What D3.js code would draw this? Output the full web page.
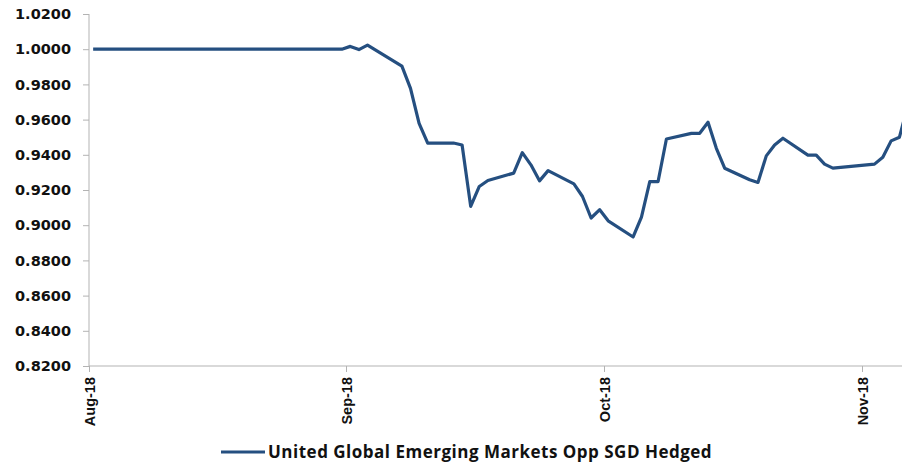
<!DOCTYPE html>
<html>
<head>
<meta charset="utf-8">
<script src="https://cdn.jsdelivr.net/npm/d3@7"></script>
<style>
  body { margin: 0; background: #fff; }
  svg { display: block; }
</style>
</head>
<body>
<div id="chart"></div>
<script>
const seriesName = 'United Global Emerging Markets Opp SGD Hedged';

// daily NAV readings (date, value)
const dates = [
  '2018-08-01', '2018-08-31',
  '2018-09-01', '2018-09-02', '2018-09-03', '2018-09-07', '2018-09-08', '2018-09-09',
  '2018-09-10', '2018-09-13', '2018-09-14', '2018-09-15', '2018-09-16', '2018-09-17',
  '2018-09-20', '2018-09-21', '2018-09-22', '2018-09-23', '2018-09-24', '2018-09-27',
  '2018-09-28', '2018-09-29', '2018-09-30',
  '2018-10-01', '2018-10-04', '2018-10-05', '2018-10-06', '2018-10-07', '2018-10-08',
  '2018-10-11', '2018-10-12', '2018-10-13', '2018-10-14', '2018-10-15', '2018-10-18',
  '2018-10-19', '2018-10-20', '2018-10-21', '2018-10-22', '2018-10-25', '2018-10-26',
  '2018-10-27', '2018-10-28',
  '2018-11-02', '2018-11-03', '2018-11-04', '2018-11-05', '2018-11-06'
];
const values = [
  1.0000, 1.0000,
  1.0016, 0.9998, 1.0023, 0.9904, 0.9777, 0.9579,
  0.9466, 0.9467, 0.9456, 0.9107, 0.9220, 0.9254,
  0.9296, 0.9412, 0.9343, 0.9252, 0.9310, 0.9235,
  0.9163, 0.9041, 0.9088,
  0.9025, 0.8933, 0.9046, 0.9248, 0.9248, 0.9490,
  0.9522, 0.9522, 0.9585, 0.9437, 0.9324, 0.9258,
  0.9243, 0.9394, 0.9456, 0.9494, 0.9398, 0.9398,
  0.9347, 0.9324,
  0.9347, 0.9386, 0.9479, 0.9500, 0.9680
];

const monthTicks = ['2018-08-01', '2018-09-01', '2018-10-01', '2018-11-01'];
const yTicks = [0.82, 0.84, 0.86, 0.88, 0.90, 0.92, 0.94, 0.96, 0.98, 1.00, 1.02];

const width = 902;
const height = 462;
const parse = d3.utcParse('%Y-%m-%d');

const data = dates.map((d, i) => ({ date: parse(d), value: values[i] }));

const svg = d3.select('#chart').append('svg')
  .attr('width', width)
  .attr('height', height);

// month ticks sit evenly apart, so use one segment per month
const x = d3.scaleUtc()
  .domain(monthTicks.map(parse))
  .range([89, 346, 604, 862]);

const y = d3.scaleLinear()
  .domain([0.82, 1.02])
  .range([366, 14]);

// points are drawn in the middle of their day slot
const xPos = d => x(d3.utcHour.offset(d, 12));

const grey = '#b3b3b3';

const yAxis = svg.append('g')
  .attr('transform', 'translate(89,0)')
  .call(d3.axisLeft(y).tickValues(yTicks).tickFormat(d3.format('.4f')).tickSize(6).tickPadding(12));

yAxis.select('.domain').attr('stroke', grey).attr('d', 'M0,14V366');
yAxis.selectAll('.tick line').attr('stroke', grey);
yAxis.selectAll('.tick text')
  .attr('fill', '#111')
  .style('font-family', 'DejaVu Sans')
  .style('font-weight', 'bold')
  .style('font-size', '14.5px');

const xAxis = svg.append('g')
  .attr('transform', 'translate(0,366)')
  .call(d3.axisBottom(x).tickValues(monthTicks.map(parse)).tickFormat(d3.utcFormat('%b-%y')).tickSize(6).tickSizeOuter(0));

xAxis.select('.domain').attr('stroke', grey).attr('d', 'M89,0H902');
xAxis.selectAll('.tick line').attr('stroke', grey);
xAxis.selectAll('.tick text')
  .attr('fill', '#111')
  .attr('transform', 'rotate(-90)')
  .attr('text-anchor', 'end')
  .attr('x', -11)
  .attr('y', 0)
  .attr('dy', '0.35em')
  .style('font-family', 'Liberation Sans Narrow, Liberation Sans')
  .style('font-weight', 'bold')
  .style('font-size', '14.5px');

const line = d3.line()
  .x(d => xPos(d.date))
  .y(d => y(d.value));

svg.append('clipPath').attr('id', 'plot-clip')
  .append('rect').attr('x', 89).attr('y', 0).attr('width', width - 89).attr('height', 366);

svg.append('path')
  .datum(data)
  .attr('clip-path', 'url(#plot-clip)')
  .attr('fill', 'none')
  .attr('stroke', '#254f80')
  .attr('stroke-width', 3.2)
  .attr('stroke-linejoin', 'round')
  .attr('d', line);

// legend
const legend = svg.append('g').attr('transform', 'translate(221,452)');

legend.append('line')
  .attr('x1', 0).attr('x2', 44)
  .attr('stroke', '#254f80')
  .attr('stroke-width', 3.2);

legend.append('text')
  .attr('x', 47)
  .attr('dy', '0.35em')
  .attr('fill', '#111')
  .style('font-family', 'Open Sans')
  .style('font-weight', 'bold')
  .style('font-size', '17px')
  .style('letter-spacing', '0.5px')
  .text(seriesName);
</script>
</body>
</html>
